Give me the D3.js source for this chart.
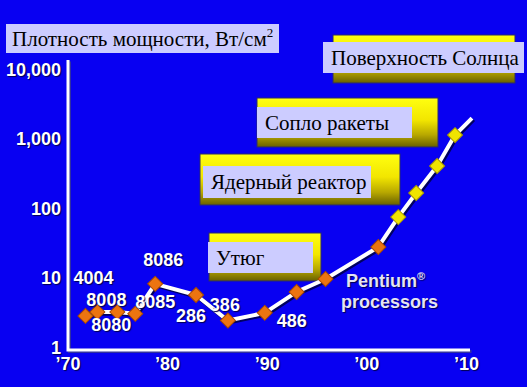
<!DOCTYPE html>
<html><head><meta charset="utf-8">
<script src="https://cdn.jsdelivr.net/npm/d3@7/dist/d3.min.js"></script>
<style>
html,body{margin:0;padding:0;background:#0800f2;}
svg{display:block}
.serif{font-family:'Liberation Serif','Times New Roman',serif;}
.sans{font-family:'Liberation Sans',Arial,sans-serif;font-weight:bold;}
</style></head><body>
<svg id="chart" width="527" height="387"></svg>
<script>
// Power density of processor generations, W/cm² (log scale)
const years     = [1971.8, 1973.0, 1975.0, 1976.8, 1978.8, 1982.9, 1986.1, 1989.8, 1993.0, 1995.9, 2001.2, 2003.2, 2005.0, 2007.1, 2008.9];
const density   = [2.8, 3.2, 3.2, 3.0, 8.1, 5.6, 2.4, 3.1, 6.2, 9.5, 27.5, 74, 164, 402, 1120];
const chipNames = ["4004", "8008", "8080", "8085", "8086", "286", "386", "486", "", "", "", "", "", "", ""];
const projected = [false, false, false, false, false, false, false, false, false, false, false, true, true, true, true];
// trend line continues past the last marker
const trendEndYear = 2010.6;
const trendEndDensity = 1970;

const yTicks = [1, 10, 100, 1000, 10000];
const yTickLabels = ["1", "10", "100", "1,000", "10,000"];
const xTicks = [1970, 1980, 1990, 2000, 2010];
const xTickLabels = ["’70", "’80", "’90", "’00", "’10"];

const refNames = ["Утюг", "Ядерный реактор", "Сопло ракеты", "Поверхность Солнца"];

// layout of the comparison boxes: label panel [x, y, w, h], yellow backing [x, y, w, h]
const refLayout = [
  {panel: [208, 242, 105, 31], back: [209, 233, 112, 48]},
  {panel: [203, 166, 168, 32], back: [200, 154, 200, 51]},
  {panel: [257, 107, 155, 31], back: [257, 98, 181, 49]},
  {panel: [323, 42, 201, 31], back: [333, 35, 182, 48]}
];
// chip label placement relative to its marker [dx, dy]
const nameOffsets = [[8, -32], [9, -6], [-6, 19], [20, -6], [8, -18], [-5, 27], [-3, -10], [27, 14]];

const svg = d3.select("#chart");
const x = d3.scaleLinear().domain([1970, 2010]).range([67.5, 466]);
const y = d3.scaleLog().domain([1, 10000]).range([347, 69]);

const defs = svg.append("defs");
const g = defs.append("linearGradient").attr("id", "gold").attr("x1", 0).attr("y1", 0).attr("x2", 0).attr("y2", 1);
g.append("stop").attr("offset", "0%").attr("stop-color", "#ffff10");
g.append("stop").attr("offset", "45%").attr("stop-color", "#f2e600");
g.append("stop").attr("offset", "75%").attr("stop-color", "#b8a800");
g.append("stop").attr("offset", "100%").attr("stop-color", "#686000");

// title
svg.append("rect").attr("x", 6).attr("y", 24).attr("width", 273).attr("height", 29).attr("fill", "#ccccff");
const title = svg.append("text").attr("class", "serif").attr("x", 12).attr("y", 46)
  .attr("font-size", 21).attr("fill", "#000");
title.append("tspan").text("Плотность мощности, Вт/см");
title.append("tspan").attr("font-size", 13).attr("dy", -9).text("2");

// comparison boxes
refNames.forEach((name, i) => {
  const L = refLayout[i];
  svg.append("rect").attr("x", L.back[0]).attr("y", L.back[1]).attr("width", L.back[2]).attr("height", L.back[3])
    .attr("fill", "url(#gold)").attr("stroke", "#2a2a70").attr("stroke-width", 1);
  svg.append("rect").attr("x", L.panel[0]).attr("y", L.panel[1]).attr("width", L.panel[2]).attr("height", L.panel[3])
    .attr("fill", "#ccccff");
  svg.append("text").attr("class", "serif").attr("x", L.panel[0] + 8).attr("y", L.panel[1] + L.panel[3] / 2 + 7)
    .attr("font-size", 21).attr("fill", "#000")
    .text(name);
});

// axis lines
const axisShadow = "#3030a0";
[[1.5, 1.5, axisShadow], [0, 0, "#ffffff"]].forEach(([ox, oy, c]) => {
  svg.append("path")
    .attr("d", `M${68 + ox},${60 + oy}V${350 + oy}H${470 + ox}`)
    .attr("fill", "none").attr("stroke", c).attr("stroke-width", 3);
});

// tick labels
const yAxis = svg.append("g").attr("transform", "translate(61,0)")
  .call(d3.axisLeft(y).tickValues(yTicks).tickFormat((d, i) => yTickLabels[i]).tickSize(0).tickPadding(0));
yAxis.select(".domain").remove();
yAxis.attr("font-family", null).attr("font-size", null);
yAxis.selectAll("text").attr("class", "sans")
  .attr("font-size", 18).attr("fill", "#ffffff").attr("dy", "0.36em")
  .style("text-shadow", "1px 1px 1px #000050");

const xAxis = svg.append("g").attr("transform", "translate(0,365)")
  .call(d3.axisBottom(x).tickValues(xTicks).tickFormat((d, i) => xTickLabels[i]).tickSize(0).tickPadding(0));
xAxis.select(".domain").remove();
xAxis.attr("font-family", null).attr("font-size", null);
xAxis.selectAll("text").attr("class", "sans")
  .attr("font-size", 18).attr("fill", "#ffffff").attr("dy", "0.3em")
  .style("text-shadow", "1px 1px 1px #000050");

// trend line
const pts = years.map((yr, i) => [yr, density[i]]);
const linePts = pts.concat([[trendEndYear, trendEndDensity]]);
const line = d3.line().x(d => x(d[0])).y(d => y(d[1]));
svg.append("path").datum(linePts).attr("d", line).attr("fill", "none")
  .attr("stroke", "#000060").attr("stroke-width", 4.5).attr("transform", "translate(1.5,1.5)").attr("stroke-linejoin", "round");
svg.append("path").datum(linePts).attr("d", line).attr("fill", "none")
  .attr("stroke", "#ffffff").attr("stroke-width", 4).attr("stroke-linejoin", "round");

// markers
const m = svg.append("g").selectAll("g").data(pts).join("g")
  .attr("transform", d => `translate(${x(d[0])},${y(d[1])}) rotate(45)`);
m.append("rect").attr("x", -5.3).attr("y", -5.3).attr("width", 10.6).attr("height", 10.6)
  .attr("fill", (d, i) => projected[i] ? "#f0e400" : "#ec7410")
  .attr("stroke", (d, i) => projected[i] ? "#a89800" : "#a84800").attr("stroke-width", 1);

// chip names
chipNames.forEach((name, i) => {
  if (!name) return;
  const px = x(years[i]) + nameOffsets[i][0];
  const py = y(density[i]) + nameOffsets[i][1];
  svg.append("text").attr("class", "sans").attr("x", px).attr("y", py).attr("text-anchor", "middle")
    .attr("font-size", 18)
    .attr("fill", "#ffffff").style("text-shadow", "1px 1px 1px #000050").text(name);
});

// series caption
const cap = svg.append("text").attr("class", "sans")
  .attr("font-size", 18).attr("fill", "#e4e4f4").style("text-shadow", "1px 1px 1px #000050");
const c1 = cap.append("tspan").attr("x", 346).attr("y", 287);
c1.append("tspan").text("Pentium");
c1.append("tspan").attr("font-size", 11).attr("dy", -7).text("®");
cap.append("tspan").attr("x", 341).attr("y", 308).text("processors");
</script>
</body></html>
